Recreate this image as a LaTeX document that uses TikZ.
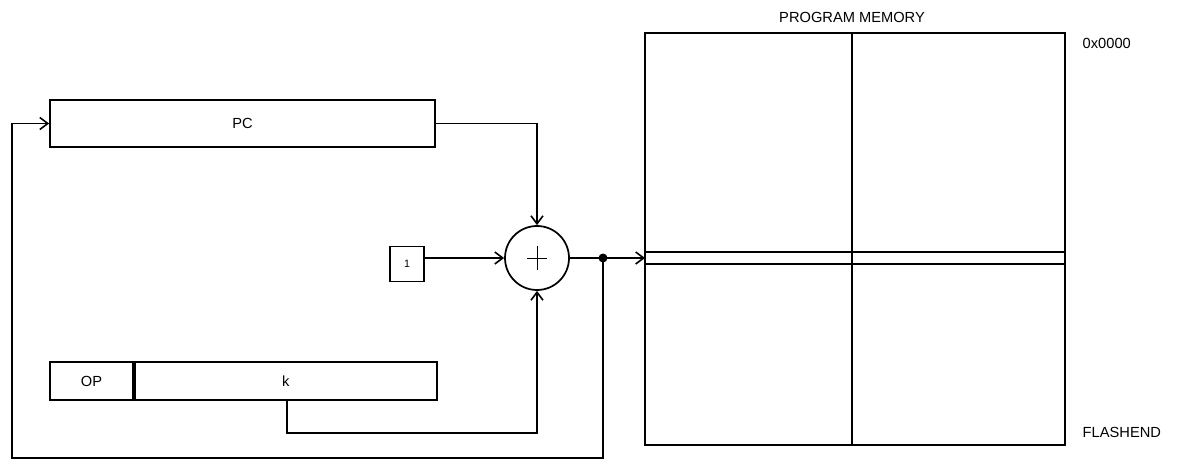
\documentclass[tikz,border=0pt]{standalone}
\usepackage{fontspec}
\setmainfont{Liberation Sans}
\usetikzlibrary{arrows.meta}
\begin{document}
\begin{tikzpicture}[x=0.75pt,y=-0.75pt,
  wire/.style={line width=1.3pt},
  arr/.style={wire,-{Straight Barb[length=6pt,width=9pt,line width=1.2pt]}},
  box/.style={draw,line width=1.3pt,inner sep=0pt},
  lbl/.style={font=\fontsize{11}{13}\selectfont}]
\useasboundingbox (0,0) rectangle (1201,460);
\node[box,minimum width=385*0.75pt,minimum height=47*0.75pt,lbl] (pc) at (242.5,123.5) {PC};
\node[box,minimum width=83*0.75pt,minimum height=38*0.75pt,lbl] (op) at (91.5,381) {OP};
\node[box,minimum width=302*0.75pt,minimum height=38*0.75pt,lbl,anchor=west] (k) at (op.east) {k};
\node[box,minimum width=34*0.75pt,minimum height=35*0.75pt,font=\fontsize{8}{10}\selectfont] (one) at (407,264) {1};
\node[draw,circle,line width=1.3pt,minimum size=64*0.75pt,inner sep=0pt] (add) at (537,258) {};
\draw[line width=0.6pt] (add.center)+(-10,0) -- +(10,0) (add.center)+(0,-12) -- +(0,12);
\node[box,minimum width=420*0.75pt,minimum height=412*0.75pt] (mem) at (855,239) {};
\draw[wire] (852,33) -- (852,445);
\draw[line width=0.9pt] (645,252) -- (1065,252);
\draw[line width=1.3pt] (645,264) -- (1065,264);
\node[lbl] (title) at (852,17) {PROGRAM MEMORY};
\node[lbl,anchor=west] (top) at (1078,43) {0x0000};
\node[lbl,anchor=west] (end) at (1078,432) {FLASHEND};
\coordinate (dot) at (603,258);
\coordinate (memin) at (645,258);
\fill (dot) circle (4.5);
\draw[arr] (pc.east) -| (add.north);
\draw[arr] (one.east |- add.west) -- (add.west);
\draw[arr] (k.south -| 287,0) |- (537,433) -- (add.south);
\draw[wire] (add.east) -- (dot);
\draw[arr] (dot) -- (memin);
\draw[arr] (dot) -- (603,458) -- (12,458) |- (pc.west);
\end{tikzpicture}
\end{document}
